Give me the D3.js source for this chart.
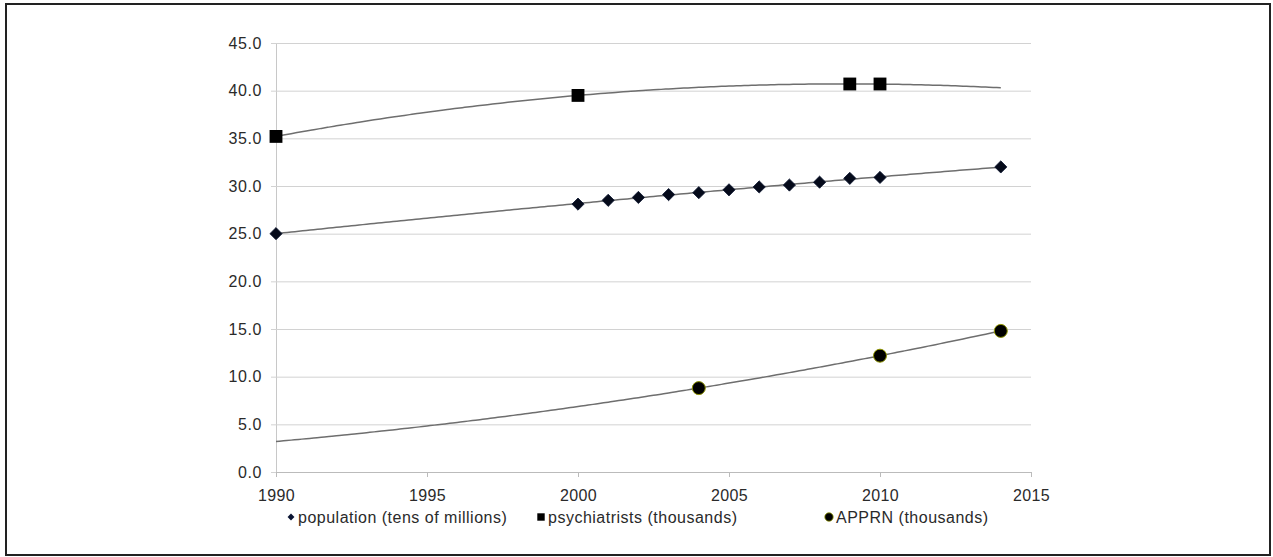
<!DOCTYPE html>
<html>
<head>
<meta charset="utf-8">
<script src="https://cdn.jsdelivr.net/npm/d3@7"></script>
<style>
  body { margin: 0; background: #fff; }
  svg { display: block; font-family: "Liberation Sans", Arial, sans-serif; }
</style>
</head>
<body>
<div id="chart"></div>
<script>
// data
const popYears = [1990, 2000, 2001, 2002, 2003, 2004, 2005, 2006, 2007, 2008, 2009, 2010, 2014];
const popValues = [25.0, 28.1, 28.5, 28.8, 29.1, 29.3, 29.6, 29.9, 30.1, 30.4, 30.8, 30.9, 32.0];
const psyYears = [1990, 2000, 2009, 2010];
const psyValues = [35.2, 39.5, 40.7, 40.7];
const apprnYears = [2004, 2010, 2014];
const apprnValues = [8.8, 12.2, 14.8];
const xTicks = [1990, 1995, 2000, 2005, 2010, 2015];
const yTicks = [0, 5, 10, 15, 20, 25, 30, 35, 40, 45];
const legendLabels = ["population (tens of millions)", "psychiatrists (thousands)", "APPRN (thousands)"];

const width = 1273, height = 557;
const margin = { top: 43, right: 242, bottom: 85, left: 276 };

let svg = d3.select("#chart").append("svg")
    .attr("width", width)
    .attr("height", height);

// outer frame
svg.append("rect")
    .attr("x", 6).attr("y", 4)
    .attr("width", width - 9).attr("height", height - 6)
    .attr("fill", "none")
    .attr("stroke", "#222")
    .attr("stroke-width", 2);

let x = d3.scaleLinear()
    .domain([1990, 2015])
    .range([margin.left, width - margin.right]);

let y = d3.scaleLinear()
    .domain([0, 45])
    .range([height - margin.bottom, margin.top]);

// horizontal gridlines + y axis
svg.append("g")
    .attr("transform", `translate(${margin.left},0)`)
    .call(d3.axisLeft(y).tickValues(yTicks).tickFormat(d3.format(".1f"))
        .tickSize(-(width - margin.right - margin.left)).tickPadding(14))
    .call(g => g.select(".domain").attr("stroke", "#c8c8c8"))
    .call(g => g.selectAll(".tick line").attr("stroke", "#d2d2d2").attr("x1", -5))
    .call(g => g.selectAll(".tick text").attr("fill", "#2a2a2a")
        .style("font-size", "16px").style("letter-spacing", "0.6px"));

// x axis
svg.append("g")
    .attr("transform", `translate(0,${y(0)})`)
    .call(d3.axisBottom(x).tickValues(xTicks).tickFormat(d3.format("d")).tickSize(5).tickSizeOuter(0).tickPadding(13))
    .call(g => g.select(".domain").attr("stroke", "#bbb"))
    .call(g => g.selectAll(".tick line").attr("stroke", "#bbb"))
    .call(g => g.selectAll(".tick text").attr("fill", "#2a2a2a")
        .style("font-size", "16px").style("letter-spacing", "0.4px"));

// least squares quadratic trend (like the spreadsheet trendline)
function quadFit(xs, ys) {
    const x0 = xs[0];
    let s = [0, 0, 0, 0, 0], t = [0, 0, 0];
    xs.forEach((xv, i) => {
        const u = xv - x0;
        for (let k = 0; k < 5; k++) s[k] += Math.pow(u, k);
        for (let k = 0; k < 3; k++) t[k] += ys[i] * Math.pow(u, k);
    });
    // solve 3x3 normal equations
    let m = [[s[0], s[1], s[2], t[0]], [s[1], s[2], s[3], t[1]], [s[2], s[3], s[4], t[2]]];
    for (let c = 0; c < 3; c++) {
        let p = c;
        for (let r = c + 1; r < 3; r++) if (Math.abs(m[r][c]) > Math.abs(m[p][c])) p = r;
        [m[c], m[p]] = [m[p], m[c]];
        if (Math.abs(m[c][c]) < 1e-12) continue;
        for (let r = 0; r < 3; r++) {
            if (r === c) continue;
            const f = m[r][c] / m[c][c];
            for (let k = c; k < 4; k++) m[r][k] -= f * m[c][k];
        }
    }
    const coef = m.map((row, i) => Math.abs(row[i]) < 1e-12 ? 0 : row[3] / row[i]);
    return xv => coef[0] + coef[1] * (xv - x0) + coef[2] * (xv - x0) * (xv - x0);
}

const trendX = d3.range(1990, 2014.001, 0.25);
const line = d3.line().x(d => x(d[0])).y(d => y(d[1])).curve(d3.curveMonotoneX);

[[popYears, popValues], [psyYears, psyValues], [apprnYears, apprnValues]].forEach(([xs, ys]) => {
    const f = quadFit(xs, ys);
    svg.append("path")
        .datum(trendX.map(v => [v, f(v)]))
        .attr("d", line)
        .attr("fill", "none")
        .attr("stroke", "#6e6e6e")
        .attr("stroke-width", 1.5);
});

// markers
const diamond = d3.symbol().type(d3.symbolDiamond2);
const square = d3.symbol().type(d3.symbolSquare2);

svg.append("g").selectAll("path")
    .data(popYears.map((v, i) => [v, popValues[i]]))
    .join("path")
    .attr("transform", d => `translate(${x(d[0])},${y(d[1])})`)
    .attr("d", diamond.size(95))
    .attr("fill", "#050a1a")
    .attr("stroke", "#0b1530")
    .attr("stroke-width", 0.8);

svg.append("g").selectAll("path")
    .data(psyYears.map((v, i) => [v, psyValues[i]]))
    .join("path")
    .attr("transform", d => `translate(${x(d[0])},${y(d[1])})`)
    .attr("d", square.size(210))
    .attr("fill", "#000");

svg.append("g").selectAll("circle")
    .data(apprnYears.map((v, i) => [v, apprnValues[i]]))
    .join("circle")
    .attr("cx", d => x(d[0]))
    .attr("cy", d => y(d[1]))
    .attr("r", 6.5)
    .attr("fill", "#000")
    .attr("stroke", "#8e9400")
    .attr("stroke-width", 1);

// legend
const legendX = [291, 541, 829];
const legendY = 517;
let legend = svg.append("g");

legend.append("path")
    .attr("transform", `translate(${legendX[0]},${legendY})`)
    .attr("d", d3.symbol().type(d3.symbolDiamond2).size(30)())
    .attr("fill", "#0a1433");
legend.append("path")
    .attr("transform", `translate(${legendX[1]},${legendY})`)
    .attr("d", d3.symbol().type(d3.symbolSquare2).size(70)())
    .attr("fill", "#000");
legend.append("circle")
    .attr("cx", legendX[2]).attr("cy", legendY).attr("r", 4.2)
    .attr("fill", "#000").attr("stroke", "#8e9400").attr("stroke-width", 0.8);

legend.selectAll("text")
    .data(legendLabels)
    .join("text")
    .attr("x", (d, i) => legendX[i] + 7)
    .attr("y", legendY + 6)
    .attr("fill", "#2a2a2a")
    .style("font-size", "16px")
    .style("letter-spacing", "0.5px")
    .text(d => d);
</script>
</body>
</html>
